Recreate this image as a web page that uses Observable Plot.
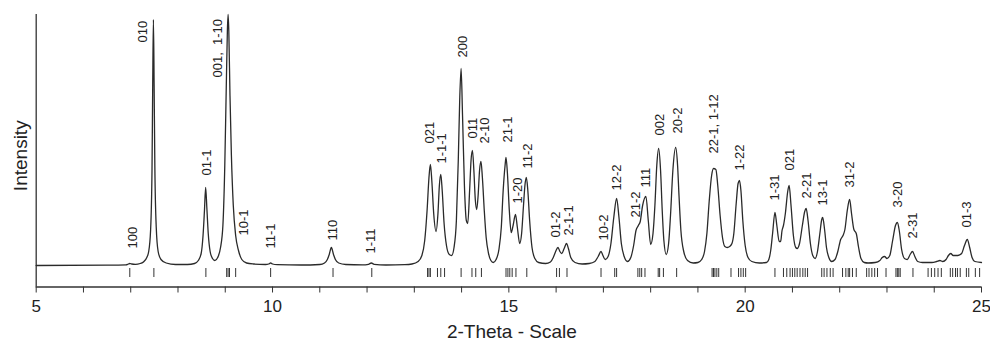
<!DOCTYPE html>
<html>
<head>
<meta charset="utf-8">
<script src="https://cdn.jsdelivr.net/npm/d3@7"></script>
<script src="https://cdn.jsdelivr.net/npm/@observablehq/plot@0.6"></script>
<style>
  html, body { margin: 0; padding: 0; background: #fff; }
  svg { display: block; }
</style>
</head>
<body>
<div id="chart"></div>
<script>
// Measured diffraction profile: [2-theta, intensity above background]
const profile = [
  [5.0,0],[6.5,0.3],[6.9,0.6],[6.95,1.5],[6.98,2],[7.02,1.5],[7.1,1.2],[7.2,2],[7.28,4],[7.34,8],[7.38,14],[7.42,35],[7.45,95],[7.465,180],[7.48,246],[7.495,180],[7.51,100],[7.54,38],[7.58,14],[7.64,6],[7.75,2.5],[7.95,1],[8.2,1],
  [8.35,2],[8.43,5],[8.49,12],[8.53,30],[8.56,55],[8.585,78],[8.61,58],[8.64,32],[8.68,14],[8.73,7],[8.78,5],[8.84,8],[8.90,18],[8.95,40],[8.99,100],[9.02,175],[9.045,235],[9.06,251],[9.075,235],[9.10,170],[9.13,110],[9.17,60],[9.22,30],[9.28,15],[9.35,6],[9.45,2.5],[9.6,1.5],[9.85,1],[9.92,1.5],[9.96,2.5],[10.0,1.5],[10.1,0.8],[10.6,0.5],
  [11.0,1],[11.1,2.5],[11.16,6],[11.2,11],[11.245,18],[11.29,11],[11.33,6],[11.4,2.5],[11.55,1],[11.9,0.6],[12.03,1.2],[12.09,2.5],[12.15,1.2],[12.4,0.5],[12.8,0.8],
  [12.95,1.5],[13.08,4],[13.16,10],[13.22,25],[13.27,55],[13.31,88],[13.34,101],[13.37,85],[13.41,52],[13.46,34],[13.50,52],[13.53,80],[13.56,91],[13.59,75],[13.63,42],[13.68,20],[13.74,11],[13.79,10],[13.84,18],[13.89,45],[13.93,105],[13.96,165],[13.99,197],[14.02,150],[14.06,80],[14.1,45],[14.13,42],[14.17,75],[14.20,105],[14.23,115],[14.26,95],[14.29,66],[14.32,56],[14.35,70],[14.38,95],[14.41,104],[14.44,88],[14.48,55],[14.52,28],[14.57,12],[14.62,5],[14.67,3],
  [14.73,6],[14.79,16],[14.84,38],[14.88,75],[14.92,100],[14.94,108],[14.97,92],[15.01,55],[15.05,33],[15.09,40],[15.14,51],[15.18,38],[15.23,22],[15.27,32],[15.31,60],[15.34,80],[15.37,88],[15.40,76],[15.44,45],[15.49,18],[15.55,7],[15.63,3],[15.78,2],
  [15.88,3.5],[15.94,8],[15.99,14],[16.04,18],[16.08,14],[16.12,12],[16.17,17],[16.22,22],[16.26,17],[16.31,8],[16.4,3],[16.55,1.5],[16.7,2],[16.82,4],[16.89,9],[16.95,14],[16.99,10],[17.04,6],
  [17.1,9],[17.16,22],[17.22,48],[17.28,67],[17.33,48],[17.38,22],[17.44,9],[17.51,4],[17.58,8],[17.64,20],[17.69,35],[17.74,40],[17.78,44],[17.83,60],[17.9,69],[17.95,45],[18.0,21],[18.05,32],[18.09,60],[18.13,100],[18.17,117],[18.21,95],[18.245,55],[18.28,25],[18.33,11],[18.38,22],[18.42,50],[18.47,95],[18.53,118],[18.57,100],[18.6,70],[18.64,35],[18.7,14],[18.78,5],[18.9,2.5],
  [19.0,3],[19.08,6],[19.14,14],[19.19,32],[19.24,65],[19.29,90],[19.33,97],[19.38,96],[19.42,80],[19.47,50],[19.52,28],[19.57,19],[19.62,18],[19.67,19],[19.72,22],[19.76,32],[19.81,62],[19.85,82],[19.88,85],[19.91,75],[19.95,45],[20.0,20],[20.06,8],[20.14,4],[20.3,2.5],
  [20.45,3],[20.5,6],[20.54,15],[20.58,32],[20.63,53],[20.67,40],[20.72,24],[20.75,24],[20.78,35],[20.81,40],[20.85,52],[20.9,74],[20.93,80],[20.97,60],[21.02,30],[21.07,18],[21.1,17],[21.15,22],[21.21,40],[21.26,54],[21.29,57],[21.33,45],[21.38,22],[21.43,10],[21.48,7],[21.53,14],[21.58,32],[21.62,46],[21.64,48],[21.68,36],[21.72,18],[21.77,8],[21.83,4],
  [21.9,6],[21.96,14],[22.02,26],[22.07,30],[22.11,36],[22.16,55],[22.21,66],[22.25,52],[22.3,36],[22.35,32],[22.4,18],[22.45,7],[22.52,3],[22.6,2.5],[22.75,3],[22.85,5],[22.9,8],[22.95,9],[23.0,7],
  [23.06,10],[23.12,25],[23.18,40],[23.22,43],[23.26,35],[23.31,16],[23.37,7],[23.43,6],[23.49,11],[23.54,14],[23.59,9],[23.65,4],[23.75,3],[23.95,3],[24.05,4],[24.12,5],[24.18,4],[24.25,6],[24.3,10],[24.35,12],[24.4,10],[24.5,10],[24.58,12],[24.64,20],[24.7,26],[24.75,18],[24.8,8],[24.86,4],[25.0,3]
];

// Calculated reflection positions (tick marks under the pattern)
const reflections = [
  6.98, 7.49, 8.59, 9.03, 9.06, 9.09, 9.22, 9.96, 11.28, 12.10,
  13.28, 13.31, 13.34, 13.49, 13.56, 13.64, 13.99, 14.22, 14.30, 14.42,
  14.94, 14.98, 15.02, 15.07, 15.15, 15.38, 16.01, 16.07, 16.23, 16.95,
  17.24, 17.28, 17.73, 17.77, 17.81, 17.88, 18.16, 18.19, 18.27, 18.55,
  19.30, 19.33, 19.36, 19.40, 19.44, 19.70, 19.86, 19.91, 19.96, 20.01,
  20.63, 20.81, 20.88, 20.95, 21.00, 21.05, 21.10, 21.16, 21.22, 21.27, 21.32,
  21.62, 21.67, 21.73, 21.80, 21.86, 22.06, 22.13, 22.18, 22.21, 22.27, 22.35,
  22.57, 22.62, 22.68, 22.74, 22.80, 22.98, 23.19, 23.22, 23.25, 23.28, 23.55,
  23.87, 23.94, 24.01, 24.08, 24.15, 24.34, 24.39, 24.45, 24.49, 24.55,
  24.68, 24.73, 24.87, 24.96
];

// Peak (hkl) labels, their 2-theta and the intensity where the text starts
const labelText = ["100","010","01-1","001,  1-10","10-1","11-1","110","1-11","021","1-1-1","200","011","2-10","21-1","1-20","11-2","01-2","2-1-1","10-2","12-2","21-2","111","002","20-2","22-1, 1-12","1-22","1-31","021","2-21","13-1","31-2","3-20","2-31","01-3"];
const labelX = [7.05,7.25,8.62,8.85,9.39,9.97,11.27,12.09,13.33,13.58,14.02,14.24,14.49,14.98,15.19,15.40,15.99,16.27,17.00,17.29,17.68,17.90,18.19,18.57,19.34,19.88,20.62,20.94,21.30,21.64,22.21,23.22,23.55,24.70];
const labelY = [17,223,90,188,30,17,25,12,122,102,208,127,122,123,62,97,28,30,25,75,48,78,130,132,112,95,65,95,67,60,78,58,27,38];

const xTicks = [5,6,7,8,9,10,11,12,13,14,15,16,17,18,19,20,21,22,23,24,25];
const xTickLabels = ["5","","","","","10","","","","","15","","","","","20","","","","","25"];
const xDomain = [5, 25];
const yDomain = [-21.5, 251];
const xTitle = "2-Theta - Scale";
const yTitle = "Intensity";

const labels = labelText.map((t, i) => ({text: t, x: labelX[i], y: labelY[i]}));
const font = "'Liberation Sans', Arial, Helvetica, sans-serif";

const chart = Plot.plot({
  width: 990,
  height: 341,
  marginLeft: 35.7,
  marginRight: 9,
  marginTop: 14,
  marginBottom: 54.5,
  style: {fontFamily: font, color: "#222", background: "#fff"},
  x: {domain: xDomain, axis: null},
  y: {domain: yDomain, axis: null},
  marks: [
    Plot.ruleX([xDomain[0]], {stroke: "#333", strokeWidth: 1.3}),
    Plot.ruleY([yDomain[0]], {stroke: "#333", strokeWidth: 1.3}),
    Plot.axisX({
      ticks: xTicks,
      tickFormat: (d) => xTickLabels[xTicks.indexOf(d)],
      tickSize: 6,
      tickPadding: 7,
      fontSize: 17,
      stroke: "#333",
      fill: "#222",
      label: null
    }),
    Plot.ruleX(reflections, {x: (d) => d, y1: -3, y2: -12, stroke: "#333", strokeWidth: 1}),
    Plot.line(profile, {x: (d) => d[0], y: (d) => d[1], curve: "monotone-x", stroke: "#2a2a2a", strokeWidth: 1.3}),
    Plot.text(labels, {x: "x", y: "y", text: "text", rotate: -90, textAnchor: "start", fontSize: 13, fill: "#222"}),
    Plot.text([xTitle], {frameAnchor: "bottom", textAnchor: "middle", lineAnchor: "middle", dx: 3, dy: 45, fontSize: 19, fill: "#222"}),
    Plot.text([yTitle], {frameAnchor: "left", textAnchor: "middle", lineAnchor: "middle", dx: -15, dy: 5, rotate: -90, fontSize: 19, fill: "#222"})
  ]
});
document.getElementById("chart").appendChild(chart);
</script>
</body>
</html>
